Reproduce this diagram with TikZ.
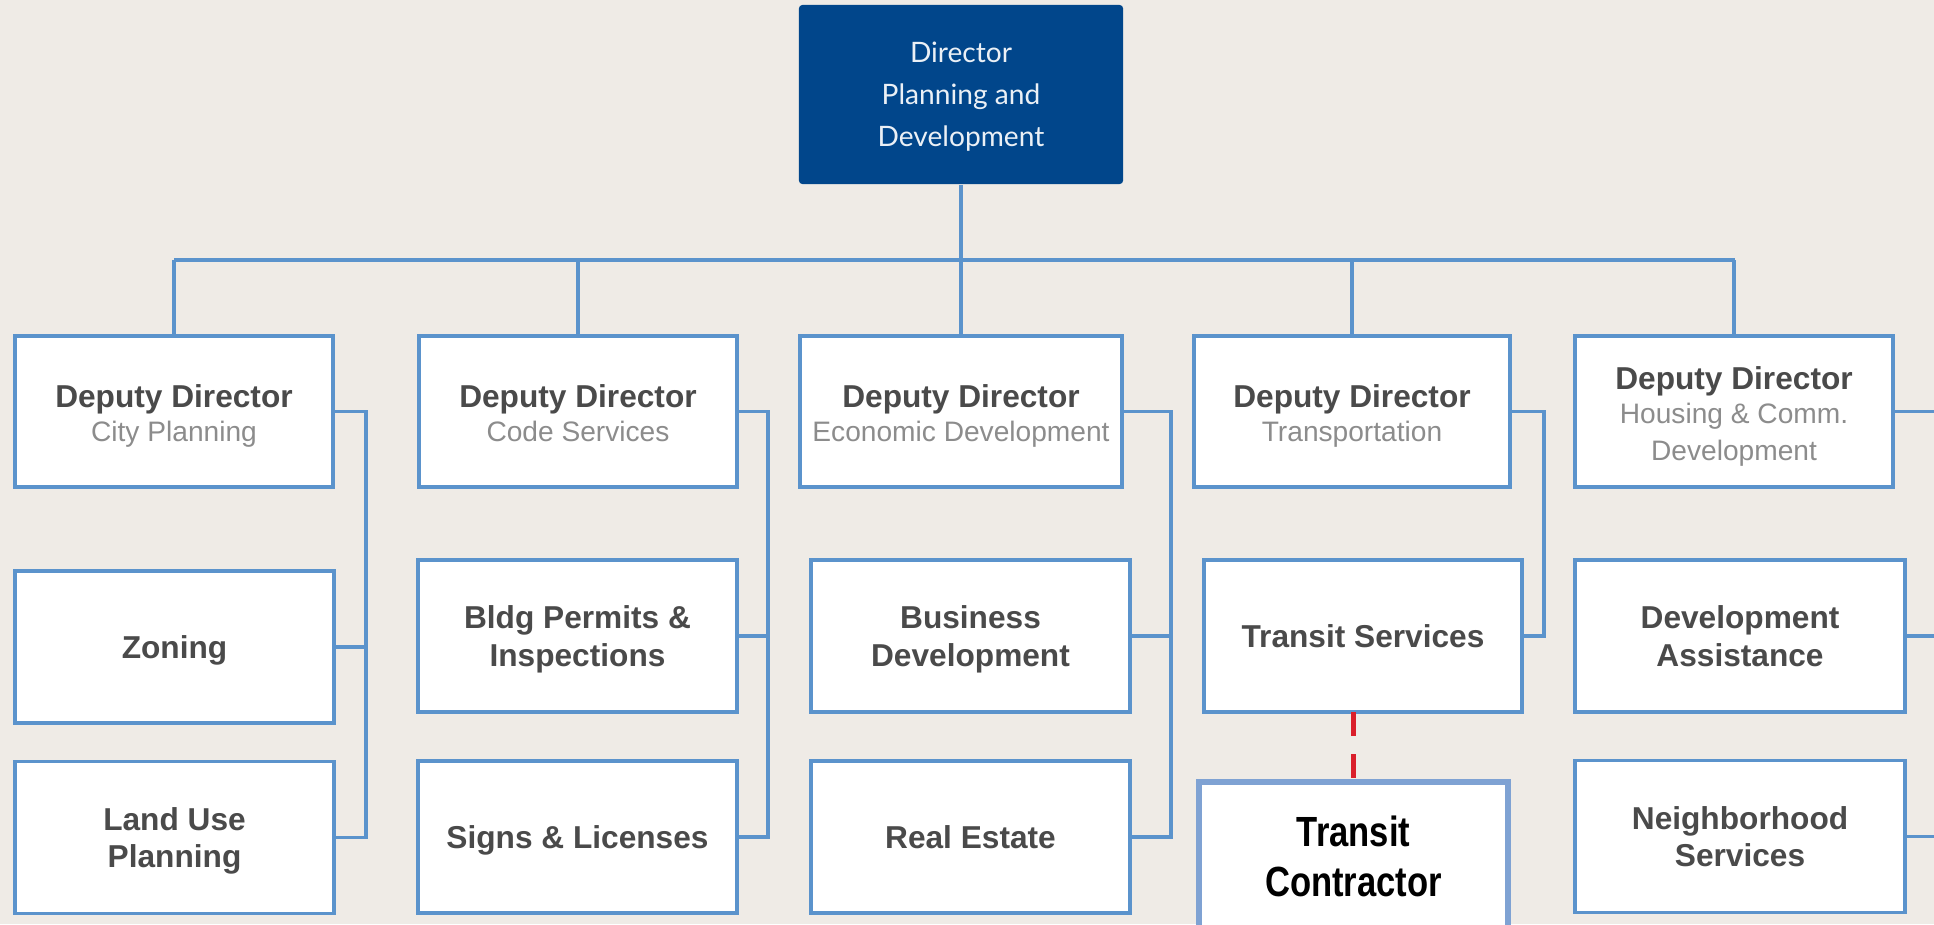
\documentclass[tikz,border=0pt]{standalone}
\usepackage{fontspec}
\setmainfont{Liberation Sans}
\newfontfamily\latofont{Lato}
\newfontfamily\narrowfont[FakeStretch=0.82]{Liberation Sans}
\usetikzlibrary{calc}
\definecolor{paper}{HTML}{EFEBE6}
\definecolor{linkblue}{HTML}{5B93CC}
\definecolor{navy}{HTML}{01468B}
\definecolor{darktext}{HTML}{4A4A4A}
\definecolor{greytext}{HTML}{8C8C8C}
\definecolor{dashred}{HTML}{DA1F2B}
\definecolor{paleblue}{HTML}{7FA2D3}
\newcommand\subt[1]{{\fontsize{8}{9.7}\selectfont\mdseries\textcolor{greytext}{#1}}}
\newcommand\dep[1]{\rule{0pt}{7.6pt}Deputy Director\\[-1pt]\subt{#1}}

\tikzset{
  unit/.style={draw=linkblue, line width=1pt, fill=white, inner sep=0pt, outer sep=0pt,
    align=center, text=darktext, text depth=0pt, font=\fontsize{9}{10.6}\selectfont\bfseries},
  deputy/.style={unit, minimum width=3.18cm, minimum height=1.51cm},
  team/.style={unit, minimum width=3.19cm, minimum height=1.52cm},
  link/.style={linkblue, line width=1pt},
}

\begin{document}
\begin{tikzpicture}[x=0.01cm,y=-0.01cm]
\clip (0,0) rectangle (1934,924);
\fill[paper] (0,0) rectangle (1934,924);

% director
\node[fill=navy, rounded corners=1pt, minimum width=3.24cm, minimum height=1.79cm, align=center,
  text depth=0pt, text={white!92!navy}, font=\latofont\fontsize{8}{11.9}\selectfont] (dir) at (961,94.5)
  {Director\\Planning and\\Development};

% deputy directors
\node[deputy] (dcity)  at (174,411.5)  {\dep{City Planning}};
\node[deputy] (dcode)  at (578,411.5)  {\dep{Code Services}};
\node[deputy, minimum width=3.22cm] (decon) at (961,411.5) {\dep{Economic Development}};
\node[deputy, minimum width=3.16cm] (dtrans) at (1352,411.5) {\dep{Transportation}};
\node[deputy] (dhous)  at (1734,411.5) {\dep{Housing \& Comm.}\\\subt{Development}};

% teams
\node[team] (zoning)     at (174.5,647)  {Zoning};
\node[team] (landuse)    at (174.5,837.5) {Land Use\\Planning};
\node[team] (bldg)       at (577.5,636)  {Bldg Permits \&\\Inspections};
\node[team] (signs)      at (577.5,837)  {Signs \& Licenses};
\node[team] (business)   at (970.5,636)  {Business\\Development};
\node[team] (realestate) at (970.5,837)  {Real Estate};
\node[team, minimum width=3.18cm] (transit) at (1363,636) {Transit Services};
\node[team, minimum width=3.30cm] (devassist) at (1740,636) {Development\\Assistance};
\node[team, minimum width=3.30cm] (neighbor)  at (1740,836.5) {Neighborhood\\Services};

\node[draw=paleblue, line width=1.7pt, fill=white, anchor=north, outer sep=0pt,
  minimum width=3.09cm, inner ysep=0.335cm, text depth=0.8cm, align=center, text=black,
  font=\narrowfont\bfseries\fontsize{12}{14.2}\selectfont] (contractor) at (1353.5,782)
  {Transit\\Contractor};

% bus and stems
\coordinate (busL) at (174,260);
\coordinate (busR) at (1735,260);
\draw[link] (dir.south) -- (dir.south |- busL);
\draw[link] (busL) -- (busR);
\foreach \d in {dcity,dcode,decon,dtrans,dhous}
  \draw[link] (\d.north) -- (\d.north |- busL);

% rails
\coordinate (rcity)  at (366,414);
\coordinate (rcode)  at (768,414);
\coordinate (recon)  at (1171,414);
\coordinate (rtrans) at (1544,414);
\coordinate (rhous)  at (1950,414);

\foreach \d/\a/\b/\r in {dcity/zoning/landuse/rcity, dcode/bldg/signs/rcode,
    decon/business/realestate/recon, dhous/devassist/neighbor/rhous} {
  \draw[link] (\d.east) -| (\r |- \b.east) -- (\b.east);
  \draw[link] (\a.east) -- (\a.east -| \r);
}
\draw[link] (dtrans.east) -| (rtrans |- transit.east) -- (transit.east);

% contractor link
\draw[dashred, line width=1.4pt, dash pattern=on 0.24cm off 0.18cm]
  (contractor.north |- transit.south) -- (contractor.north);
\end{tikzpicture}
\end{document}
